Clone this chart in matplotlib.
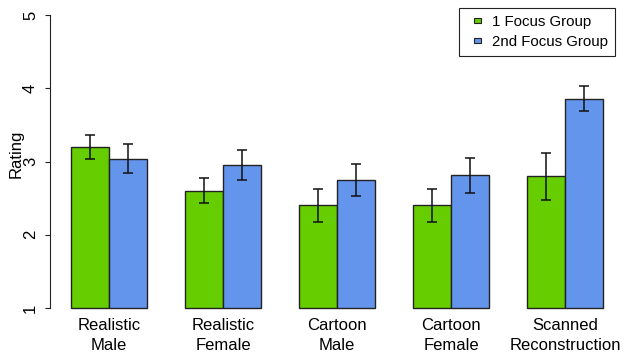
import numpy as np
import matplotlib.pyplot as plt
from matplotlib.patches import Rectangle
from matplotlib.legend_handler import HandlerPatch

plt.rcParams['font.family'] = ['Liberation Sans', 'DejaVu Sans']

categories = ['Realistic\nMale', 'Realistic\nFemale', 'Cartoon\nMale',
              'Cartoon\nFemale', 'Scanned\nReconstruction']
group1 = [3.20, 2.60, 2.40, 2.40, 2.80]
group1_err = [0.165, 0.17, 0.22, 0.22, 0.32]
group2 = [3.04, 2.95, 2.75, 2.81, 3.86]
group2_err = [0.195, 0.205, 0.215, 0.235, 0.175]
series_names = ['1 Focus Group', '2nd Focus Group']
colors = ['#66CD00', '#6495ED']


def small_box(legend, orig_handle, xdescent, ydescent, width, height, fontsize):
    # small R-style legend swatch centred in the handle area
    w, h = 5.0, 3.0
    return Rectangle((-xdescent + (width - w) / 2, -ydescent + (height - h) / 2), w, h)


fig = plt.figure(figsize=(6.28, 3.56), dpi=100)
ax = fig.add_axes([49.7 / 628, 1 - 319.7 / 356, (624.3 - 49.7) / 628, (319.7 - 3.3) / 356])

n = len(categories)
x1 = 1.5 + 3 * np.arange(n)
x2 = x1 + 1
base = 1.0

ax.bar(x1, np.array(group1) - base, bottom=base, width=1.0, color=colors[0],
       edgecolor='#222222', linewidth=1.0)
ax.bar(x2, np.array(group2) - base, bottom=base, width=1.0, color=colors[1],
       edgecolor='#222222', linewidth=1.0)
ax.errorbar(x1, group1, yerr=group1_err, fmt='none', ecolor='#111111',
            elinewidth=1.1, capsize=3.7, capthick=1.1)
ax.errorbar(x2, group2, yerr=group2_err, fmt='none', ecolor='#111111',
            elinewidth=1.1, capsize=3.7, capthick=1.1)

ax.set_xlim(0.44, 15.56)
ax.set_ylim(0.84, 5.16)

for s in ['top', 'right', 'bottom']:
    ax.spines[s].set_visible(False)
ax.spines['left'].set_bounds(1, 5)
ax.spines['left'].set_color('#222222')

ax.set_yticks([1, 2, 3, 4, 5])
ax.set_yticklabels(['1', '2', '3', '4', '5'], rotation=90, va='center')
ax.tick_params(axis='y', direction='out', length=3.6, width=0.8,
               labelsize=12, pad=4.8, color='#222222')

ax.set_xticks(x1 + 0.5)
ax.set_xticklabels(categories, fontsize=12, linespacing=1.4)
ax.tick_params(axis='x', length=0, pad=-1)

ax.set_ylabel('Rating', fontsize=12)
ax.yaxis.set_label_coords(-0.046, 0.525)

handles = [Rectangle((0, 0), 1, 1, facecolor=c, edgecolor='#222222', linewidth=0.8)
           for c in colors]
leg = ax.legend(handles, series_names, loc='upper right',
                bbox_to_anchor=(615 / 628, 1 - 8 / 356),
                bbox_transform=fig.transFigure, fontsize=10.8, fancybox=False,
                edgecolor='#222222', framealpha=1, handlelength=1.67,
                handleheight=0.7, handletextpad=0.13, borderpad=0.45,
                labelspacing=0.4, borderaxespad=0,
                handler_map={Rectangle: HandlerPatch(patch_func=small_box)})
leg.get_frame().set_linewidth(0.8)

fig.savefig('out.png', dpi=100)
